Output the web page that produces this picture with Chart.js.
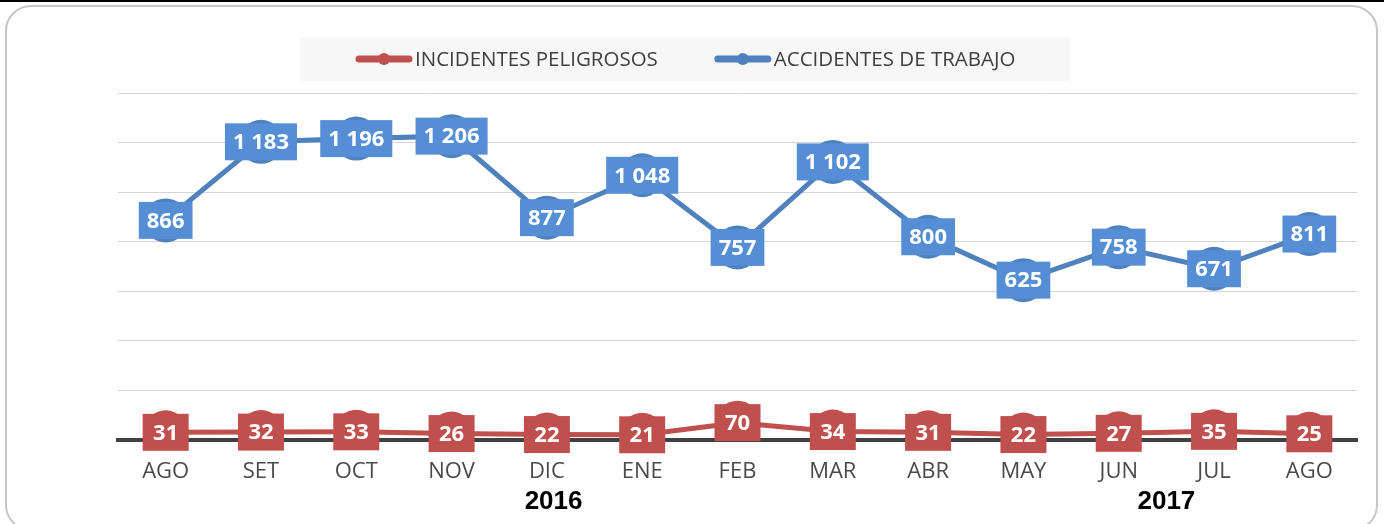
<!DOCTYPE html>
<html>
<head>
<meta charset="utf-8">
<script src="https://cdn.jsdelivr.net/npm/chart.js@4.4.1/dist/chart.umd.min.js"></script>
<style>
  html, body { margin: 0; padding: 0; background: #fff; overflow: hidden; }
  #topline { position: absolute; left: 0; top: 0; width: 1384px; height: 2px; background: #000; }
  #frame { position: absolute; left: 5px; top: 5px; width: 1373px; height: 526px; box-sizing: border-box;
           border: 2px solid #c6c6c6; border-radius: 26px; }
  #wrap { position: absolute; left: 0; top: 0; width: 1384px; height: 524px; }
</style>
</head>
<body>
<div id="topline"></div>
<div id="frame"></div>
<div id="wrap"><canvas id="accChart" width="1384" height="524"></canvas></div>
<script>
const months = ['AGO','SET','OCT','NOV','DIC','ENE','FEB','MAR','ABR','MAY','JUN','JUL','AGO'];
const incidentes = [31,32,33,26,22,21,70,34,31,22,27,35,25];
const accidentes = [866,1183,1196,1206,877,1048,757,1102,800,625,758,671,811];
const seriesNames = ['INCIDENTES PELIGROSOS','ACCIDENTES DE TRABAJO'];
const years = ['2016','2017'];
const yTicks = [0,200,400,600,800,1000,1200,1400];

const RED = '#c0504d';
const BLUE = '#4f81bd';
const BLUE_BOX = '#558ed5';

function fmt(n){
    return String(n).replace(/\B(?=(\d{3})+(?!\d))/g, ' ');
}

// boxes with the values, drawn over the markers
const valueBoxes = {
    id:'valueBoxes',
    afterDatasetsDraw(chart){
        const ctx = chart.ctx;
        ctx.save();
        ctx.font = 'bold 22px "Open Sans"';
        ctx.textAlign = 'center';
        ctx.textBaseline = 'middle';
        chart.data.datasets.forEach((ds, di) => {
            const meta = chart.getDatasetMeta(di);
            meta.data.forEach((pt, i) => {
                const txt = fmt(ds.data[i]);
                const w = Math.max(46, ctx.measureText(txt).width + 16);
                const h = 37;
                ctx.fillStyle = ds.boxColor;
                ctx.fillRect(pt.x - w/2, pt.y - h/2, w, h);
                ctx.fillStyle = '#fff';
                ctx.fillText(txt, pt.x, pt.y + 1);
            });
        });
        ctx.restore();
    }
};

// legend on a grey band, plus the year captions under the axis
const extras = {
    id:'extras',
    afterDraw(chart){
        const ctx = chart.ctx;
        ctx.save();
        ctx.fillStyle = '#f7f7f7';
        ctx.fillRect(300, 38, 770, 43);
        ctx.font = '20.5px "Open Sans"';
        ctx.textBaseline = 'middle';
        ctx.textAlign = 'left';
        let x = 356;
        const y = 59;
        chart.data.datasets.forEach((ds) => {
            ctx.strokeStyle = ds.borderColor;
            ctx.lineWidth = 7;
            ctx.lineCap = 'round';
            ctx.beginPath();
            ctx.moveTo(x + 3, y);
            ctx.lineTo(x + 53, y);
            ctx.stroke();
            ctx.fillStyle = ds.borderColor;
            ctx.beginPath();
            ctx.arc(x + 28, y, 6, 0, Math.PI*2);
            ctx.fill();
            ctx.fillStyle = '#404040';
            ctx.fillText(ds.label, x + 59, y + 1);
            x += 59 + ctx.measureText(ds.label).width + 57;
        });

        const xs = chart.scales.x;
        ctx.font = 'bold 26px "Liberation Sans"';
        ctx.fillStyle = '#000';
        ctx.textAlign = 'center';
        ctx.fillText(years[0], xs.getPixelForValue(4.07), 502);
        ctx.fillText(years[1], xs.getPixelForValue(10.5), 502);
        ctx.restore();
    }
};

new Chart(document.getElementById('accChart'),{
    type:'line',
    data:{
        labels:months,
        datasets:[{
            label:seriesNames[0],
            data:incidentes,
            yAxisID:'y',
            borderColor:RED,
            backgroundColor:RED,
            boxColor:RED,
            borderWidth:5,
            pointRadius:22,
            pointHoverRadius:22,
            pointBorderWidth:0,
            tension:0
        },{
            label:seriesNames[1],
            data:accidentes,
            yAxisID:'y1',
            borderColor:BLUE,
            backgroundColor:BLUE,
            boxColor:BLUE_BOX,
            borderWidth:5,
            pointRadius:22,
            pointHoverRadius:22,
            pointBorderWidth:0,
            tension:0
        }]
    },
    options:{
        responsive:false,
        animation:false,
        devicePixelRatio:1,
        layout:{padding:{left:118, right:27, top:93, bottom:0}},
        plugins:{
            legend:{display:false},
            tooltip:{enabled:false}
        },
        scales:{
            x:{
                offset:true,
                grid:{display:false, drawTicks:false},
                border:{display:true, color:'#404040', width:4},
                ticks:{color:'#4a4a4a', font:{family:'"Open Sans"', size:22}, padding:19, maxRotation:0, autoSkip:false},
                afterFit(scale){ scale.height = 84; }
            },
            y:{
                min:yTicks[0],
                max:yTicks[yTicks.length-1],
                afterBuildTicks(scale){ scale.ticks = yTicks.map(v => ({value:v})); },
                grid:{
                    drawTicks:false,
                    color:(c) => c.tick && c.tick.value === 0 ? 'rgba(0,0,0,0)' : '#d4d4d4',
                    lineWidth:1
                },
                border:{display:false},
                ticks:{display:false}
            },
            y1:{
                display:false,
                min:-20,
                max:1380
            }
        }
    },
    plugins:[valueBoxes, extras]
});
</script>
</body>
</html>
